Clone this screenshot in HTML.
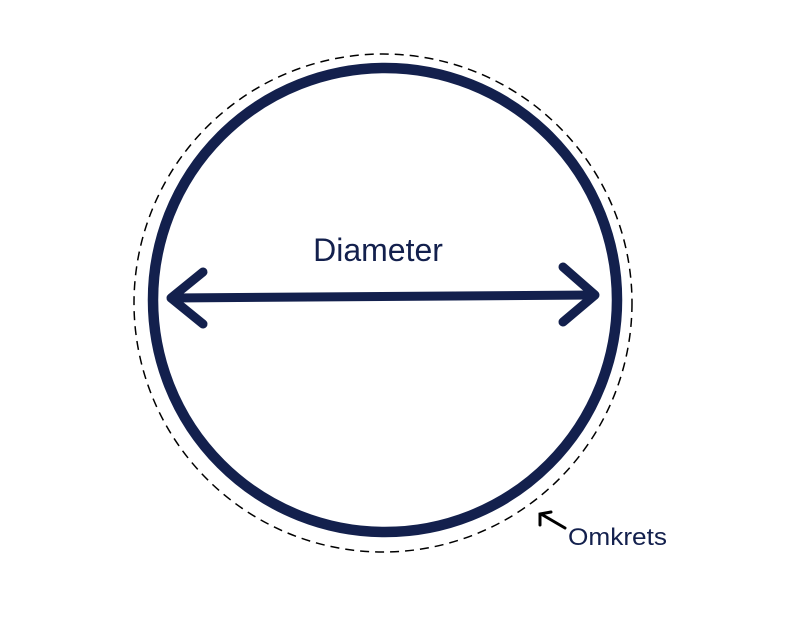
<!DOCTYPE html>
<html><head><meta charset="utf-8"><style>
html,body{margin:0;padding:0;background:#fff;}
svg{display:block}
</style></head><body>
<svg width="802" height="629" viewBox="0 0 802 629" xmlns="http://www.w3.org/2000/svg">
<circle cx="383" cy="303" r="249" fill="none" stroke="#000" stroke-width="1.5" stroke-dasharray="9,6"/>
<circle cx="385" cy="300" r="232" fill="none" stroke="#13204d" stroke-width="10.5"/>
<g stroke="#13204d" stroke-width="9" stroke-linecap="round" stroke-linejoin="round" fill="none">
<line x1="172" y1="298" x2="593" y2="295"/>
<polyline points="203,272 171,298 203,324"/>
<polyline points="563,267 595,295 563,322"/>
</g>
<text x="378" y="261" font-family="Liberation Sans, sans-serif" font-size="32" fill="#13204d" text-anchor="middle">Diameter</text>
<g stroke="#000" stroke-width="3" stroke-linecap="round" fill="none">
<line x1="565" y1="528" x2="541" y2="514"/>
<polyline points="540,525 540,514 551,512"/>
</g>
<text x="568" y="545" font-family="Liberation Sans, sans-serif" font-size="24" fill="#13204d" textLength="99" lengthAdjust="spacingAndGlyphs">Omkrets</text>
</svg>
</body></html>
